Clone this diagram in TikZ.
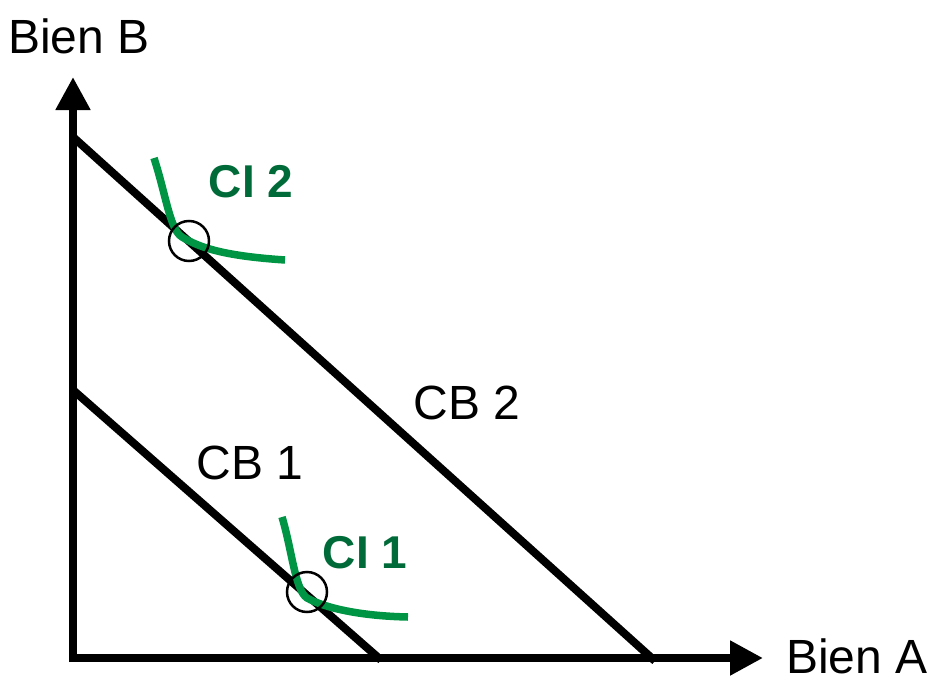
\documentclass[tikz,border=0pt]{standalone}
\usepackage{fontspec}
\setmainfont{Liberation Sans}
\usetikzlibrary{arrows.meta}
\definecolor{cigreen}{HTML}{009544}
\definecolor{cilabel}{HTML}{006B38}
\tikzset{
  axisline/.style={line width=8pt,-{Triangle[length=33pt,width=33pt]}},
  budget/.style={line width=8pt},
  icurve/.style={line width=7.5pt,cigreen,line cap=butt},
  optim/.style={circle,draw,line width=2.5pt,minimum size=40pt,inner sep=0pt},
  lbl/.style={font=\fontsize{48}{56}\selectfont,inner sep=0pt},
  cilbl/.style={font=\fontsize{46}{54}\selectfont\bfseries,text=cilabel,inner sep=0pt}
}
\begin{document}
\begin{tikzpicture}[x=1pt,y=-1pt]
\useasboundingbox (0,0) rectangle (929,677);
\coordinate (O) at (73,658);
\coordinate (ytip) at (73,77);
\coordinate (xtip) at (763,658);
\draw[axisline] (73,662) -- (ytip);
\draw[axisline] (69,658) -- (xtip);
% budget lines
\coordinate (b2a) at (73,137);
\coordinate (b2b) at (655,661);
\coordinate (b1a) at (73,390);
\coordinate (b1b) at (381,660);
\draw[budget] (b2a) -- (b2b);
\draw[budget] (b1a) -- (b1b);
% indifference curves
\draw[icurve] (154,158) .. controls (166,195) and (170,230) .. (182,237)
  .. controls (200,248) and (225,256) .. (285,260);
\draw[icurve] (282,517) .. controls (292,550) and (295,590) .. (307,598)
  .. controls (325,608) and (360,616) .. (408,617);
% optimum circles
\node[optim] (opt2) at (189,241) {};
\node[optim] (opt1) at (307,592) {};
% labels
\node[lbl] (bb) at (79,36) {Bien B};
\node[lbl] (ba) at (857,656) {Bien A};
\node[lbl] (cb2) at (467,403) {CB 2};
\node[lbl] (cb1) at (250,463) {CB 1};
\node[cilbl] (ci2) at (251,182) {CI 2};
\node[cilbl] (ci1) at (365,553) {CI 1};
\end{tikzpicture}
\end{document}
